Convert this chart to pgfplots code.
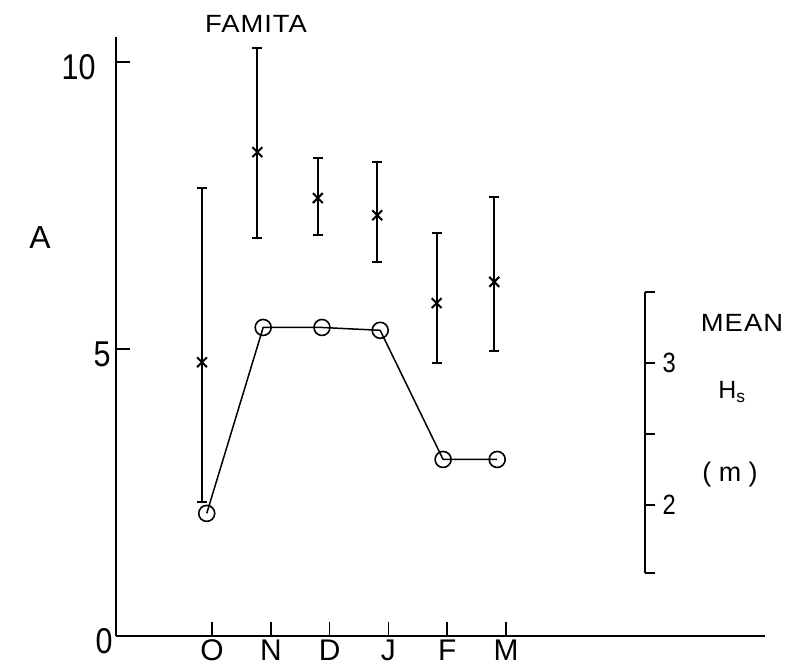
\documentclass[border=0pt]{standalone}
\usepackage{fontspec}
\setmainfont{Liberation Sans}
\newfontfamily\numfont[FakeStretch=0.85]{Liberation Sans}
\newfontfamily\wordfont[FakeStretch=1.1,LetterSpace=4]{Liberation Sans}
\usepackage{pgfplots}
\usepackage{pgfplotstable}
\pgfplotsset{compat=1.18}

% mean A with its range (x = month index, O = 0)
\pgfplotstableread{
x     y     up    down
-0.17 4.77  3.03  2.44
0.77  8.43  1.81  1.50
1.80  7.63  0.70  0.64
2.81  7.33  0.93  0.81
3.82  5.80  1.22  1.04
4.80  6.17  1.48  1.20
}\famita

% mean Hs (m), right-hand scale
\pgfplotstableread{
x     hs
-0.09 1.94
0.87  3.25
1.87  3.25
2.86  3.23
3.93  2.32
4.85  2.32
}\hsdata

\begin{document}
\begin{tikzpicture}[x=1bp,y=1bp]
\path[use as bounding box] (0,0) rectangle (792,669);

\begin{axis}[
  at={(116bp,33bp)}, anchor=south west,
  scale only axis, width=649bp, height=599bp,
  xmin=-1.633, xmax=9.405, ymin=0, ymax=10.436,
  axis x line=bottom, axis y line=left,
  axis line style={-, line width=2.2bp},
  xtick={0,1,2,3,4,5}, xticklabels={O,N,D,J,F,M},
  ytick={0,5,10},
  yticklabels={{0\kern0bp},{5\kern2bp},{10\kern17bp}},
  tick align=inside, major tick length=14bp,
  tick style={line width=1.6bp, black},
  xticklabel style={font=\fontsize{30}{30}\selectfont},
  yticklabel style={font=\numfont\fontsize{36}{36}\selectfont, yshift=-5bp},
  /pgf/number format/assume math mode=true,
  clip=false,
]
\addplot[black, only marks, mark=x, mark size=7bp, mark options={line width=2bp},
  error bars/.cd, y dir=both, y explicit,
  error bar style={line width=1.8bp},
  error mark options={rotate=90, line width=1.8bp, mark size=5bp}]
  table[x=x, y=y, y error plus=up, y error minus=down] {\famita};
\end{axis}

\begin{axis}[
  at={(116bp,96bp)}, anchor=south west,
  scale only axis, width=529bp, height=281bp,
  xmin=-1.633, xmax=7.364, ymin=1.52, ymax=3.50,
  axis x line=none, axis y line=right,
  axis line style={-, line width=2.2bp},
  ytick={1.52,2,2.5,3,3.5}, yticklabels={,2,,3,},
  tick align=outside, major tick length=10bp,
  tick style={line width=1.6bp, black},
  yticklabel style={font=\numfont\fontsize{28}{28}\selectfont, xshift=4bp},
  clip=false,
]
\addplot[black, line width=1.5bp, mark=o, mark size=8bp,
  mark options={fill=white, line width=1.6bp}]
  table[x=x, y=hs] {\hsdata};
\end{axis}

\node[font=\wordfont\fontsize{25}{25}\selectfont] at (256,645) {FAMITA};
\node[font=\fontsize{32}{32}\selectfont] at (40,431) {A};
\node[font=\wordfont\fontsize{25}{25}\selectfont] at (742,346) {MEAN};
\node[font=\fontsize{25}{25}\selectfont] at (732,277) {H\textsubscript{s}};
\node[font=\fontsize{27}{27}\selectfont] at (730,194) {( m )};
\end{tikzpicture}
\end{document}
